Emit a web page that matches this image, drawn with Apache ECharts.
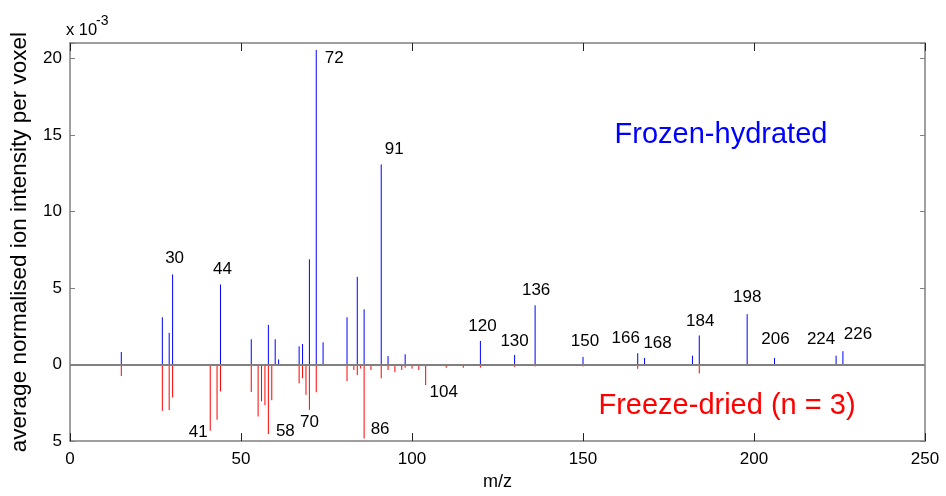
<!DOCTYPE html>
<html>
<head>
<meta charset="utf-8">
<script src="https://cdn.jsdelivr.net/npm/echarts@6/dist/echarts.min.js"></script>
<style>
html, body { margin: 0; padding: 0; background: #fff; }
#chart { width: 946px; height: 496px; }
</style>
</head>
<body>
<div id="chart"></div>
<script>
// m/z channels that carry a peak in at least one preparation
const mzValues = [15, 27, 29, 30, 41, 43, 44, 53, 55, 56, 57, 58, 59, 60, 61,
  67, 68, 69, 70, 72, 74, 81, 83, 84, 85, 86, 88, 91, 93, 95, 97, 98, 100, 102,
  104, 110, 115, 120, 130, 136, 150, 166, 168, 182, 184, 198, 206, 224, 226];

// Frozen-hydrated: average normalised ion intensity per voxel (x 10^-3)
const frozenHydrated = [0.82, 3.09, 2.07, 5.88, 0, 0, 5.23, 1.65, 0, 0, 0, 2.59, 0, 1.65, 0.33,
  1.19, 1.34, 0, 6.87, 20.55, 1.45, 3.09, 0, 5.73, 0, 3.61, 0, 13.07, 0.55, 0, 0, 0.67, 0, 0,
  0, 0, 0, 1.54, 0.63, 3.87, 0.50, 0.74, 0.43, 0.58, 1.90, 3.29, 0.43, 0.58, 0.87];

// Freeze-dried (n = 3): same quantity, plotted downwards (x 10^-3)
const freezeDried = [0.75, 3.02, 2.98, 2.14, 4.32, 3.60, 1.75, 1.79, 3.39, 2.40, 2.65, 4.54, 2.33, 0, 0,
  1.23, 0.90, 1.98, 2.96, 1.81, 0, 1.08, 0.36, 0.69, 0.26, 4.83, 0.36, 0.90, 0.36, 0.50, 0.36, 0.21, 0.27, 0.36,
  1.34, 0.21, 0.21, 0.20, 0.15, 0.12, 0.12, 0.28, 0.10, 0, 0.58, 0.10, 0, 0, 0];

// Annotated peaks
const frozenLabelled = [30, 44, 72, 91, 120, 130, 136, 150, 166, 168, 184, 198, 206, 224, 226];
const driedLabelled = [41, 58, 70, 86, 104];

// Axis ticks
const xTicks = [0, 50, 100, 150, 200, 250];
const yTicks = [-5, 0, 5, 10, 15, 20];

// Pixel nudges of each peak annotation from its peak tip [dx, dy]
const labelNudge = {
  30: [2, -16], 44: [2, -15.5], 72: [18, 8], 91: [13, -15], 120: [2, -15],
  130: [0, -13.5], 136: [1, -14.5], 150: [2, -15.5], 166: [-12, -15], 168: [13, -15],
  184: [1, -14.5], 198: [0, -17], 206: [1, -19], 224: [-15, -16], 226: [15, -16.5],
  41: [-12, 2], 58: [17, -3], 70: [0, 12], 86: [16, -9], 104: [18, 7]
};

const FONT = 'Liberation Sans, Arial, Helvetica, sans-serif';
const BLUE = '#0000ff';
const RED = '#ff0000';
const AXIS_GREY = '#808080';

const hydratedData = [];
const driedData = [];
mzValues.forEach((mz, i) => {
  if (frozenHydrated[i] > 0) hydratedData.push([mz, frozenHydrated[i]]);
  if (freezeDried[i] > 0) driedData.push([mz, -freezeDried[i]]);
});

const labelData = [];
frozenLabelled.forEach(mz => {
  labelData.push([mz, frozenHydrated[mzValues.indexOf(mz)]]);
});
driedLabelled.forEach(mz => {
  labelData.push([mz, -freezeDried[mzValues.indexOf(mz)]]);
});

function stemRenderer(color) {
  return function (params, api) {
    const base = api.coord([api.value(0), 0]);
    const tip = api.coord([api.value(0), api.value(1)]);
    return {
      type: 'line',
      shape: { x1: base[0], y1: base[1], x2: tip[0], y2: tip[1] },
      style: { stroke: color, lineWidth: 1 }
    };
  };
}

function labelRenderer(params, api) {
  const mz = api.value(0);
  const tip = api.coord([mz, api.value(1)]);
  const d = labelNudge[mz] || [0, -15];
  return {
    type: 'text',
    x: tip[0] + d[0],
    y: tip[1] + d[1],
    style: {
      text: String(mz),
      fill: '#000',
      font: '17px ' + FONT,
      align: 'center',
      verticalAlign: 'middle'
    }
  };
}

const chart = echarts.init(document.getElementById('chart'), null, { renderer: 'canvas' });

const isTick = (list) => (v) => list.some(t => Math.abs(t - v) < 1e-9);

chart.setOption({
  backgroundColor: '#ffffff',
  animation: false,
  grid: { left: 67, right: 21, top: 43, bottom: 51, containLabel: false },
  xAxis: [
    {
      type: 'value', position: 'bottom', min: xTicks[0], max: xTicks[xTicks.length - 1], interval: 50,
      name: 'm/z', nameLocation: 'middle', nameGap: 31,
      nameTextStyle: { color: '#000', fontSize: 18, fontFamily: FONT },
      axisLine: { show: true, onZero: false, lineStyle: { color: AXIS_GREY, width: 1.5 } },
      axisTick: { show: true, inside: true, length: 8, lineStyle: { color: '#222', width: 1 } },
      axisLabel: {
        color: '#000', fontSize: 17, fontFamily: FONT, margin: 10,
        formatter: v => (isTick(xTicks)(v) ? String(v) : '')
      },
      splitLine: { show: false }
    },
    {
      type: 'value', position: 'top', min: xTicks[0], max: xTicks[xTicks.length - 1], interval: 50,
      axisLine: { show: true, onZero: false, lineStyle: { color: AXIS_GREY, width: 1.5 } },
      axisTick: { show: true, inside: true, length: 8, lineStyle: { color: '#222', width: 1 } },
      axisLabel: { show: false },
      splitLine: { show: false }
    }
  ],
  yAxis: [
    {
      type: 'value', position: 'left', min: yTicks[0], max: 21, interval: 5,
      name: 'average normalised ion intensity per voxel', nameLocation: 'middle', nameGap: 39,
      nameRotate: 90,
      nameTextStyle: { color: '#000', fontSize: 22.5, fontFamily: FONT },
      axisLine: { show: true, onZero: false, lineStyle: { color: AXIS_GREY, width: 1.5 } },
      axisTick: { show: true, inside: true, length: 5, lineStyle: { color: AXIS_GREY, width: 1 } },
      axisLabel: {
        color: '#000', fontSize: 17, fontFamily: FONT, margin: 8,
        formatter: v => (isTick(yTicks)(v) ? String(Math.abs(v)) : '')
      },
      splitLine: { show: false }
    },
    {
      type: 'value', position: 'right', min: yTicks[0], max: 21, interval: 5,
      axisLine: { show: true, onZero: false, lineStyle: { color: AXIS_GREY, width: 1.5 } },
      axisTick: { show: true, inside: true, length: 5, lineStyle: { color: AXIS_GREY, width: 1 } },
      axisLabel: { show: false },
      splitLine: { show: false }
    }
  ],
  series: [
    {
      name: 'zero',
      type: 'line',
      data: [],
      z: 1,
      silent: true,
      markLine: {
        silent: true,
        symbol: ['none', 'none'],
        label: { show: false },
        lineStyle: { color: AXIS_GREY, width: 2, type: 'solid' },
        data: [{ yAxis: 0 }]
      }
    },
    {
      name: 'Frozen-hydrated',
      type: 'custom',
      z: 3,
      renderItem: stemRenderer(BLUE),
      encode: { x: 0, y: 1 },
      data: hydratedData
    },
    {
      name: 'Freeze-dried (n = 3)',
      type: 'custom',
      z: 3,
      renderItem: stemRenderer(RED),
      encode: { x: 0, y: 1 },
      data: driedData
    },
    {
      name: 'peak labels',
      type: 'custom',
      z: 4,
      renderItem: labelRenderer,
      encode: { x: 0, y: 1 },
      data: labelData
    }
  ],
  graphic: [
    {
      type: 'text', left: 66, top: 22, z: 10,
      style: { text: 'x 10', font: '16.5px ' + FONT, fill: '#000' }
    },
    {
      type: 'text', left: 96, top: 14, z: 10,
      style: { text: '-3', font: '14px ' + FONT, fill: '#000' }
    },
    {
      type: 'text', x: 721, y: 135, z: 10,
      style: { text: 'Frozen-hydrated', font: '29px ' + FONT, fill: BLUE, align: 'center', verticalAlign: 'middle' }
    },
    {
      type: 'text', x: 727, y: 406, z: 10,
      style: { text: 'Freeze-dried (n = 3)', font: '29px ' + FONT, fill: RED, align: 'center', verticalAlign: 'middle' }
    }
  ]
});
</script>
</body>
</html>
